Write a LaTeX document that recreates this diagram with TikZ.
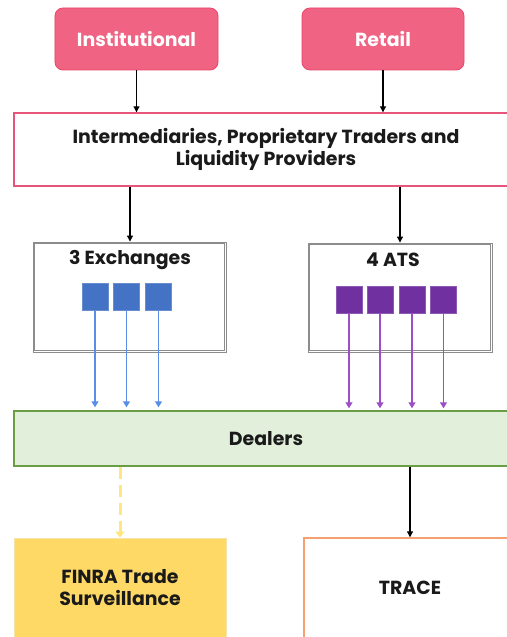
\documentclass[tikz,border=0pt]{standalone}
\usepackage{fontspec}
\setmainfont{Poppins}
\usetikzlibrary{arrows.meta}
\definecolor{pinkfill}{HTML}{F06383}
\definecolor{pinkdraw}{HTML}{E8456A}
\definecolor{interdraw}{HTML}{E8557A}
\definecolor{exblue}{HTML}{4472C4}
\definecolor{exarrow}{HTML}{5A8EE6}
\definecolor{atspurple}{HTML}{7030A0}
\definecolor{atsarrow}{HTML}{9B50C8}
\definecolor{dealfill}{HTML}{E2EFDA}
\definecolor{dealdraw}{HTML}{6A9E45}
\definecolor{finrafill}{HTML}{FFD966}
\definecolor{finradraw}{HTML}{F5E3A8}
\definecolor{yelarrow}{HTML}{FFE680}
\definecolor{tracedraw}{HTML}{F4A070}
\definecolor{boxgray}{HTML}{8C8C8C}
\definecolor{txt}{HTML}{1A1A1A}
\tikzset{
  lbl/.style={font=\bfseries\fontsize{19}{22}\selectfont, text=txt, align=center},
  source/.style={draw=pinkdraw, fill=pinkfill, rounded corners=8bp, line width=0.8bp,
     font=\bfseries\fontsize{19}{22}\selectfont, text=white},
  wide/.style={lbl, line width=1.4bp},
  venue/.style={draw=boxgray, line width=0.9bp, fill=white},
  venuein/.style={draw=boxgray, line width=0.9bp},
  sq/.style={minimum width=26bp, minimum height=27bp, inner sep=0pt},
  blacka/.style={draw=black, line width=1.1bp, -{Triangle[length=6bp,width=6bp]}},
  bluea/.style={draw=exarrow, line width=1.2bp, -{Triangle[length=6bp,width=7bp]}},
  purpa/.style={draw=atsarrow, line width=1.2bp, -{Triangle[length=6bp,width=7bp]}},
  yela/.style={draw=yelarrow, line width=3bp, dash pattern=on 12bp off 6bp, -{Triangle[length=6bp,width=9bp]}},
}
\begin{document}
\begin{tikzpicture}[x=1bp,y=-1bp]
\useasboundingbox (0,0) rectangle (507,637);
\clip (0,0) rectangle (507,637);
% sources
\node[source, minimum width=163bp, minimum height=62bp] (inst) at (136.5,39) {Institutional};
\node[source, minimum width=162bp, minimum height=62bp] (ret) at (383,39) {Retail};
% intermediaries
\node[wide, draw=interdraw, fill=white, minimum width=504bp, minimum height=73bp] (inter) at (266,149.5)
  {Intermediaries, Proprietary Traders and\\Liquidity Providers};
% venues
\node[venue, minimum width=193bp, minimum height=110bp] (exch) at (129.5,297) {};
\draw[venuein] ([shift={(2bp,-2bp)}]exch.north west) rectangle ([shift={(-2bp,2bp)}]exch.south east);
\node[lbl] (exchT) at (130,260) {3 Exchanges};
\node[venue, minimum width=184bp, minimum height=109bp] (ats) at (400,297.5) {};
\draw[venuein] ([shift={(2bp,-2bp)}]ats.north west) rectangle ([shift={(-2bp,2bp)}]ats.south east);
\node[lbl] (atsT) at (393,260) {4 ATS};
% squares
\node[sq, fill=exblue, draw=exblue!80!white] (e1) at (95,297) {};
\node[sq, fill=exblue, draw=exblue!80!white] (e2) at (126.5,297) {};
\node[sq, fill=exblue, draw=exblue!80!white] (e3) at (158.5,297) {};
\node[sq, fill=atspurple, draw=atspurple!80!white] (a1) at (349,299.5) {};
\node[sq, fill=atspurple, draw=atspurple!80!white] (a2) at (380,299.5) {};
\node[sq, fill=atspurple, draw=atspurple!80!white] (a3) at (412,299.5) {};
\node[sq, fill=atspurple, draw=atspurple!80!white] (a4) at (443.5,299.5) {};
% dealers
\node[wide, draw=dealdraw, fill=dealfill, minimum width=504bp, minimum height=55bp] (deal) at (266,438.5) {Dealers};
% bottom
\node[lbl, draw=finradraw, fill=finrafill, line width=0.8bp, minimum width=212bp, minimum height=107bp] (finra) at (120,591.5) {};
\node[lbl] (finraT) at (120,588) {FINRA Trade\\Surveillance};
\node[lbl, draw=tracedraw, fill=white, line width=1.4bp, minimum width=212bp, minimum height=107bp] (trace) at (410,591.5) {};
\node[lbl] (traceT) at (410,588) {TRACE};
% arrows
\draw[blacka] (inst.south) -- (inst.south |- inter.north);
\draw[blacka] (ret.south) -- (ret.south |- inter.north);
\draw[blacka] ([xshift=-136bp]inter.south) -- ([xshift=-136bp]inter.south |- exch.north);
\draw[blacka] ([xshift=134bp]inter.south) -- ([xshift=134bp]inter.south |- ats.north);
\foreach \s in {e1,e2,e3} \draw[bluea] (\s.south) -- ([yshift=3bp]\s.south |- deal.north);
\foreach \s in {a1,a2,a3,a4} \draw[purpa] (\s.south) -- ([yshift=2bp]\s.south |- deal.north);
\draw[yela] (deal.south -| finra.north) -- (finra.north);
\draw[blacka] (deal.south -| trace.north) -- (trace.north);
\end{tikzpicture}
\end{document}
